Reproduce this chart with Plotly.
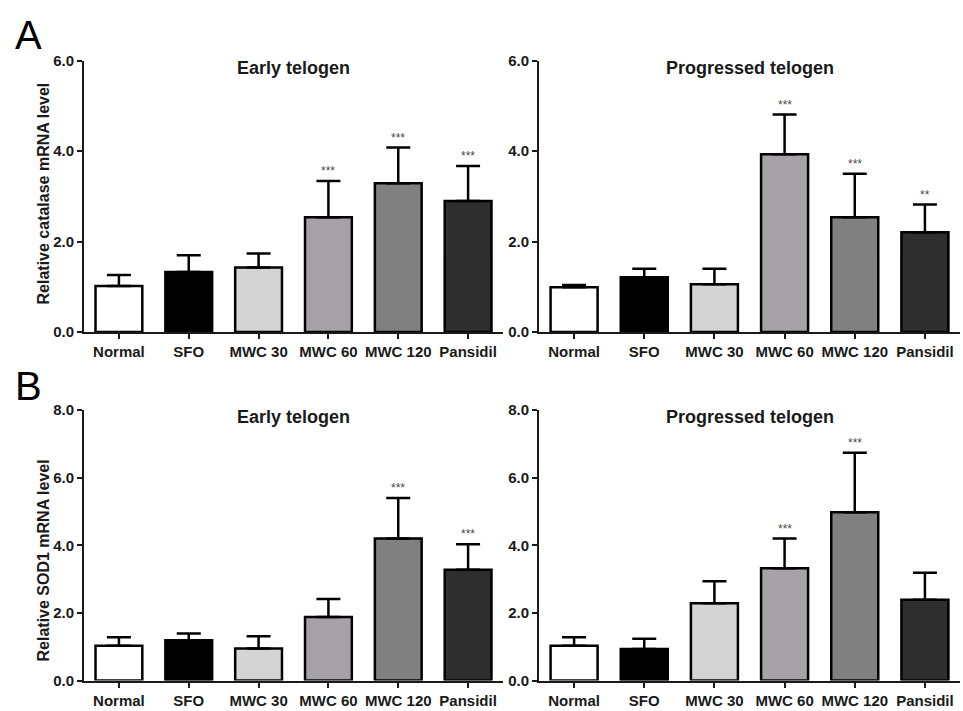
import plotly.graph_objects as go

# Treatment groups and bar fills
groups = ["Normal", "SFO", "MWC 30", "MWC 60", "MWC 120", "Pansidil"]
fills = ["#ffffff", "#000000", "#d4d4d4", "#a7a2a8", "#808080", "#2e2e2e"]

# Catalase mRNA (relative), mean and SEM
cat_early_mean = [1.02, 1.33, 1.43, 2.54, 3.29, 2.90]
cat_early_sem = [0.24, 0.37, 0.31, 0.80, 0.79, 0.77]
cat_early_sig = ["", "", "", "***", "***", "***"]

cat_prog_mean = [0.99, 1.21, 1.06, 3.93, 2.54, 2.21]
cat_prog_sem = [0.05, 0.19, 0.34, 0.88, 0.96, 0.61]
cat_prog_sig = ["", "", "", "***", "***", "**"]

# SOD1 mRNA (relative), mean and SEM
sod_early_mean = [1.03, 1.19, 0.95, 1.88, 4.20, 3.28]
sod_early_sem = [0.25, 0.20, 0.36, 0.53, 1.20, 0.75]
sod_early_sig = ["", "", "", "", "***", "***"]

sod_prog_mean = [1.03, 0.93, 2.29, 3.32, 4.98, 2.39]
sod_prog_sem = [0.25, 0.31, 0.65, 0.88, 1.76, 0.80]
sod_prog_sig = ["", "", "", "***", "***", ""]

panels = [
    dict(mean=cat_early_mean, sem=cat_early_sem, sig=cat_early_sig, title="Early telogen",
         xd=[84 / 963, 503 / 963], yd=[1 - 331 / 711, 1 - 53 / 711], ymax=6.0),
    dict(mean=cat_prog_mean, sem=cat_prog_sem, sig=cat_prog_sig, title="Progressed telogen",
         xd=[539 / 963, 960 / 963], yd=[1 - 331 / 711, 1 - 53 / 711], ymax=6.0),
    dict(mean=sod_early_mean, sem=sod_early_sem, sig=sod_early_sig, title="Early telogen",
         xd=[84 / 963, 503 / 963], yd=[1 - 688 / 711, 1 - 411 / 711], ymax=8.0),
    dict(mean=sod_prog_mean, sem=sod_prog_sem, sig=sod_prog_sig, title="Progressed telogen",
         xd=[539 / 963, 960 / 963], yd=[1 - 688 / 711, 1 - 411 / 711], ymax=8.0),
]

FONT = "Liberation Sans, Arial, sans-serif"
INK = "#1a1a1a"

fig = go.Figure()
annotations = []

for i, p in enumerate(panels):
    n = "" if i == 0 else str(i + 1)
    xa, ya = "x" + n, "y" + n
    fig.add_trace(go.Bar(
        x=groups, y=p["mean"], xaxis=xa, yaxis=ya,
        marker=dict(color=fills, line=dict(color="#000000", width=2.5)),
        width=0.67,
        error_y=dict(type="data", array=p["sem"], arrayminus=[0] * len(groups),
                     symmetric=False, color="#000000", thickness=2.5, width=12),
        showlegend=False, hoverinfo="skip",
    ))
    fig.layout["xaxis" + n] = dict(
        domain=p["xd"], anchor=ya, type="category", range=[-0.5, 5.5],
        showline=True, linecolor=INK, linewidth=2, showgrid=False, zeroline=False,
        ticks="outside", ticklen=5, tickwidth=2, tickcolor=INK,
        tickfont=dict(family=FONT, size=15, color=INK, weight="bold"),
    )
    fig.layout["yaxis" + n] = dict(
        domain=p["yd"], anchor=xa, range=[0, p["ymax"]], dtick=2, tickformat=".1f",
        showline=True, linecolor=INK, linewidth=2, showgrid=False, zeroline=False,
        ticks="outside", ticklen=5, tickwidth=2, tickcolor=INK,
        tickfont=dict(family=FONT, size=15, color=INK, weight="bold"),
    )
    # panel title
    annotations.append(dict(
        text=p["title"], xref="paper", yref="paper",
        x=(p["xd"][0] + p["xd"][1]) / 2, y=p["yd"][1] - 7 / 711,
        xanchor="center", yanchor="middle", showarrow=False,
        font=dict(family=FONT, size=18, color=INK, weight="bold"),
    ))
    # significance marks above error bars
    for g, m, s, sig in zip(groups, p["mean"], p["sem"], p["sig"]):
        if sig:
            annotations.append(dict(
                text=sig, x=g, y=m + s, xref=xa, yref=ya,
                xanchor="center", yanchor="bottom", yshift=1, showarrow=False,
                font=dict(family=FONT, size=12, color="#4a4a4a"),
            ))

# y-axis titles
annotations.append(dict(
    text="Relative catalase mRNA level", xref="paper", yref="paper",
    x=43 / 963, y=1 - 189 / 711, textangle=-90, showarrow=False,
    xanchor="center", yanchor="middle",
    font=dict(family=FONT, size=16, color=INK, weight="bold"),
))
annotations.append(dict(
    text="Relative SOD1 mRNA level", xref="paper", yref="paper",
    x=43 / 963, y=1 - 565 / 711, textangle=-90, showarrow=False,
    xanchor="center", yanchor="middle",
    font=dict(family=FONT, size=16, color=INK, weight="bold"),
))

# panel letters
for letter, yy in [("A", 27), ("B", 386)]:
    annotations.append(dict(
        text=letter, xref="paper", yref="paper", x=28 / 963, y=1 - yy / 711,
        xanchor="center", yanchor="middle", showarrow=False,
        font=dict(family=FONT, size=40, color="#000000"),
    ))

fig.update_layout(
    width=963, height=711, margin=dict(l=0, r=0, t=0, b=0),
    paper_bgcolor="white", plot_bgcolor="white",
    annotations=annotations, bargap=0.33,
)

fig.write_html("out.html")
